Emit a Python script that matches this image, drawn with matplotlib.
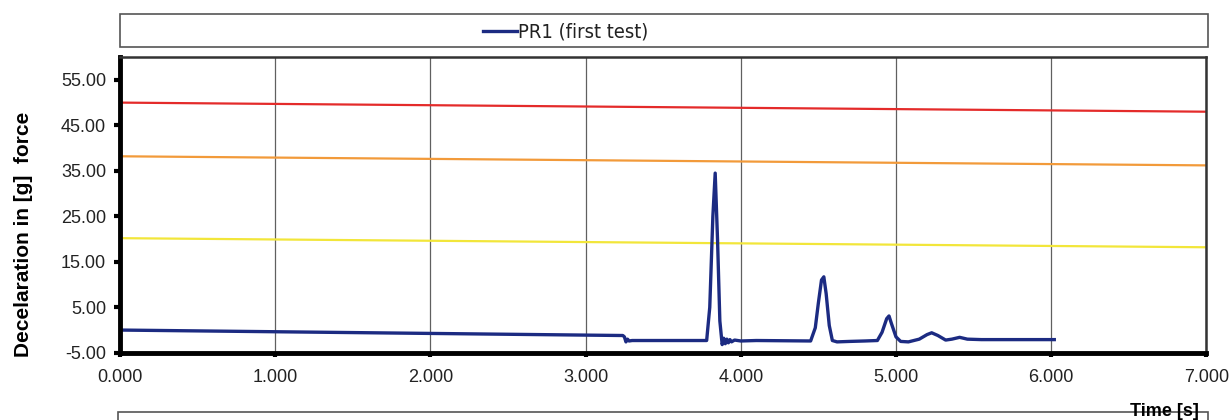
#!/usr/bin/python
# Deceleration trace of PR1 drop test with the three g-force limit lines.

import matplotlib
matplotlib.use("Agg")
import matplotlib.pyplot as plt
from matplotlib.patches import Rectangle

# data
time_pr1 = [0.0, 3.24, 3.25, 3.26, 3.27, 3.28, 3.30, 3.78, 3.80, 3.82, 3.835,
            3.85, 3.865, 3.88, 3.89, 3.90, 3.91, 3.92, 3.93, 3.94, 3.96, 4.00,
            4.10, 4.45, 4.48, 4.50, 4.52, 4.535, 4.55, 4.57, 4.59, 4.62, 4.70,
            4.80, 4.88, 4.91, 4.94, 4.955, 4.97, 5.00, 5.03, 5.08, 5.15, 5.20,
            5.23, 5.27, 5.32, 5.36, 5.41, 5.46, 5.55, 6.02]
decel_pr1 = [0.0, -1.2, -1.5, -2.6, -2.0, -2.4, -2.3, -2.3, 5.0, 25.0, 34.5,
             20.0, 2.0, -3.2, -1.8, -3.0, -2.0, -2.8, -2.1, -2.6, -2.2, -2.4,
             -2.3, -2.4, 0.5, 6.0, 11.0, 11.7, 8.0, 1.0, -2.3, -2.6, -2.5,
             -2.4, -2.3, -0.5, 2.5, 3.1, 1.5, -1.5, -2.5, -2.6, -2.0, -1.0,
             -0.6, -1.2, -2.2, -2.0, -1.6, -2.0, -2.1, -2.1]

limit_time = [0.0, 7.0]
limit_red = [50.0, 48.0]
limit_orange = [38.2, 36.2]
limit_yellow = [20.2, 18.2]

xticks = [0, 1, 2, 3, 4, 5, 6, 7]
yticks = [-5, 5, 15, 25, 35, 45, 55]

def main():
    fig = plt.figure(figsize=(12.31, 4.2), dpi=100)
    ax = fig.add_axes([0.0975, 0.16, 0.8825, 0.704])

    ax.plot(limit_time, limit_red, color="#e42b2a", lw=1.6)
    ax.plot(limit_time, limit_orange, color="#f29a3a", lw=1.6)
    ax.plot(limit_time, limit_yellow, color="#f2e63a", lw=1.6)
    ax.plot(time_pr1, decel_pr1, color="#1c2b82", lw=2.4)

    ax.set_xlim(0, 7)
    ax.set_ylim(-5, 60)
    ax.set_xticks(xticks)
    ax.set_xticklabels(["%.3f" % t for t in xticks])
    ax.set_yticks(yticks)
    ax.set_yticklabels(["%.2f" % v for v in yticks])
    ax.grid(axis="x", color="#606060", lw=0.9)

    for lab in ax.get_xticklabels() + ax.get_yticklabels():
        lab.set_fontfamily("Liberation Sans")
        lab.set_fontsize(13)
        lab.set_color("#222222")
    ax.tick_params(axis="y", direction="out", length=4, width=3, pad=6)
    ax.tick_params(axis="x", direction="out", length=3, width=3, pad=9)

    ax.spines["left"].set_linewidth(3.5)
    ax.spines["bottom"].set_linewidth(3.5)
    ax.spines["top"].set_linewidth(1.8)
    ax.spines["right"].set_linewidth(1.8)
    ax.spines["top"].set_color("#333333")
    ax.spines["right"].set_color("#333333")

    ax.set_ylabel("Decelaration in [g]  force", fontfamily="Liberation Sans",
                  fontweight="bold", fontsize=15)
    ax.yaxis.set_label_coords(-0.08, 0.40)

    # legend box above the plot
    fig.patches.append(Rectangle((0.0975, 0.887), 0.884, 0.08, transform=fig.transFigure,
                                 fill=False, edgecolor="#555555", lw=1.2))
    fig.lines.append(plt.Line2D([0.392, 0.42], [0.926, 0.926], transform=fig.transFigure,
                                color="#1c2b82", lw=2.4))
    fig.text(0.421, 0.925, "PR1 (first test)", fontsize=14.5, va="center",
             family="DejaVu Sans", fontstretch="condensed", color="#222222")

    # next chart's legend box, cut at the page edge
    fig.patches.append(Rectangle((0.0955, -0.05), 0.886, 0.07, transform=fig.transFigure,
                                 fill=False, edgecolor="#555555", lw=1.2))
    fig.text(0.946, 0.02, "Time [s]", fontfamily="Liberation Sans",
             fontweight="bold", fontsize=13, ha="center", va="center")

    fig.savefig("out.png", dpi=100)

if __name__ == "__main__":
    main()
